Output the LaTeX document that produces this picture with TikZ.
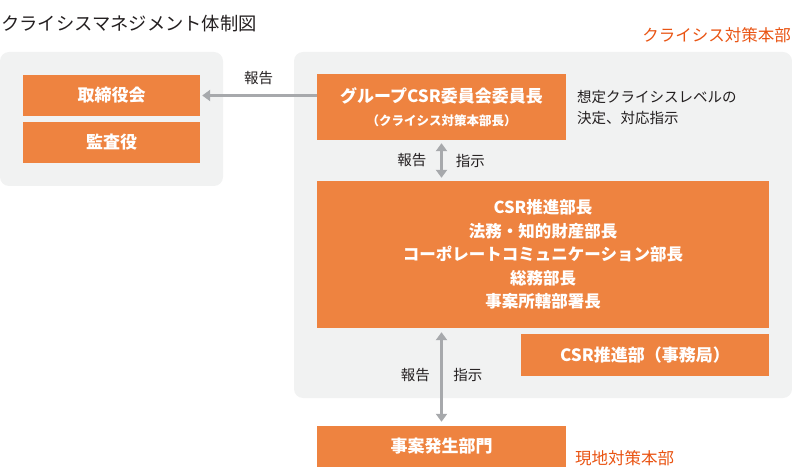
\documentclass[tikz,border=0pt]{standalone}
\usepackage{fontspec}
\setmainfont{Noto Sans CJK JP}
\usetikzlibrary{arrows.meta}
\definecolor{boxorange}{RGB}{238,131,64}
\definecolor{panelgray}{RGB}{241,242,242}
\definecolor{arrowgray}{RGB}{167,169,172}
\definecolor{hqred}{RGB}{233,84,19}
\definecolor{inkblack}{RGB}{35,31,32}

\begin{document}
\begin{tikzpicture}[x=1pt, y=-1pt, >={Triangle[length=8pt, width=11pt]},
    panel/.style={fill=panelgray, rounded corners=9pt},
    orgbox/.style={fill=boxorange, text=white, inner sep=0pt, align=center,
        font=\bfseries\fontsize{17}{21}\selectfont},
    link/.style={draw=arrowgray, line width=3.5pt},
    lbl/.style={text=inkblack, inner sep=0pt, font=\fontsize{14.5}{17}\selectfont},
    hq/.style={text=hqred, inner sep=0pt, font=\fontsize{16.5}{20}\selectfont}]
    \useasboundingbox (0,0) rectangle (792,470);
    % Titolo
    \node[anchor=west, text=inkblack, inner sep=0pt, font=\fontsize{18.3}{22}\selectfont] (title) at (1,24) {クライシスマネジメント体制図};
    % Pannelli
    \fill[panel] (0,52) rectangle (223,186);
    \fill[panel] (294,52) rectangle (792,398);
    \node[hq, anchor=east] (crisishq) at (791,35) {クライシス対策本部};
    % Riquadri
    \node[orgbox, minimum width=177pt, minimum height=41pt] (board) at (111.5,95.5) {取締役会};
    \node[orgbox, minimum width=177pt, minimum height=41pt] (auditor) at (111.5,142.5) {監査役};
    \node[orgbox, minimum width=249pt, minimum height=66pt] (chair) at (441.5,107) {グループCSR委員会委員長\\[1.5pt]{\fontsize{12.5}{15}\selectfont （クライシス対策本部長）}};
    \node[lbl, anchor=west, align=left, font=\fontsize{14.5}{21}\selectfont] (note) at (577,108) {想定クライシスレベルの\\決定、対応指示};
    \node[orgbox, minimum width=452pt, minimum height=147pt, font=\bfseries\fontsize{16.5}{23.5}\selectfont] (heads) at (543,254.5) {CSR推進部長\\法務・知的財産部長\\コーポレートコミュニケーション部長\\総務部長\\事案所轄部署長};
    \node[orgbox, minimum width=248pt, minimum height=42pt] (office) at (645,355) {CSR推進部（事務局）};
    \node[orgbox, minimum width=249pt, minimum height=41pt] (site) at (441.5,446.5) {事案発生部門};
    \node[hq, anchor=west] (sitehq) at (575,458) {現地対策本部};
    % Frecce
    \draw[link, ->, shorten >=2pt] (board.east -| chair.west) -- (board.east) node[lbl, midway, above=9pt]{報告};
    \draw[link, <->, shorten <=3pt, shorten >=3pt] (chair.south) -- (heads.north -| chair.south)
        node[lbl, midway, left=13.5pt]{報告} node[lbl, midway, right=12.5pt]{指示};
    \draw[link, <->, shorten <=4pt, shorten >=4pt] (heads.south -| site.north) -- (site.north)
        node[lbl, midway, left=10pt, yshift=2pt]{報告} node[lbl, midway, right=10pt, yshift=2pt]{指示};
\end{tikzpicture}
\end{document}
